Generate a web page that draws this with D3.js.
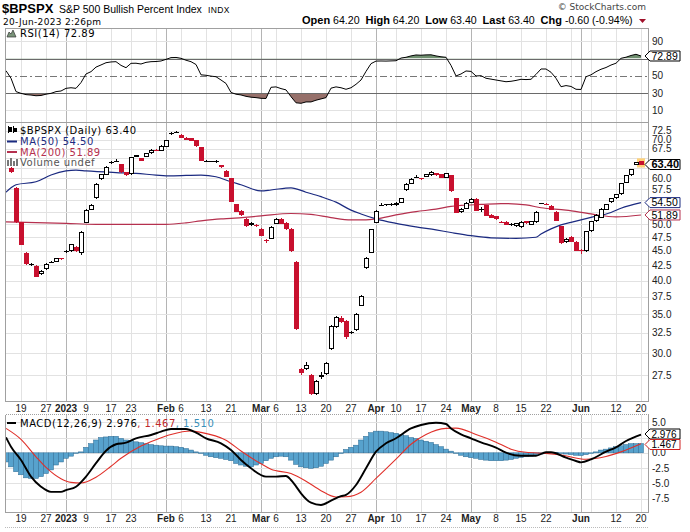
<!DOCTYPE html>
<html><head><meta charset="utf-8">
<script src="https://cdnjs.cloudflare.com/ajax/libs/d3/7.8.5/d3.min.js"></script>
<style>
html,body{margin:0;padding:0;background:#fff;}
svg{display:block;}
text{white-space:pre;}
</style></head>
<body><svg id="c" width="690" height="532"></svg>
<script>
// ---------------- DATA ----------------
const leadSession = "2022-12-14";
// [date, open, high, low, close]
const candles = [
["2022-12-15",62.5,62.7,61.3,61.5],["2022-12-16",57.8,57.9,50.3,50.4],["2022-12-19",50.4,50.5,46.0,46.1],
["2022-12-20",44.7,44.8,42.6,42.7],["2022-12-21",42.6,42.9,42.3,42.75],["2022-12-22",42.4,42.5,40.5,40.6],
["2022-12-23",41.0,41.7,40.9,41.6],["2022-12-27",41.8,42.9,41.7,42.8],["2022-12-28",43.0,43.2,42.9,43.05],
["2022-12-29",43.1,43.8,43.0,43.7],["2022-12-30",43.7,43.8,43.4,43.5],
["2023-01-03",44.9,45.1,44.6,45.0],["2023-01-04",44.9,46.3,44.8,46.2],["2023-01-05",45.7,45.8,44.8,44.9],
["2023-01-06",44.7,48.6,44.2,48.5],["2023-01-09",50.3,53.1,50.2,53.0],["2023-01-10",53.0,54.1,52.9,54.0],
["2023-01-11",55.4,58.8,55.3,58.7],["2023-01-12",59.8,61.1,59.7,61.0],["2023-01-13",60.8,62.9,60.7,62.8],
["2023-01-17",64.0,64.3,63.6,64.1],["2023-01-18",64.2,64.9,64.0,64.3],["2023-01-19",63.5,63.6,61.4,61.5],
["2023-01-20",61.5,61.6,60.6,60.7],["2023-01-23",61.0,65.4,60.9,65.3],["2023-01-24",65.8,65.9,65.3,65.4],
["2023-01-25",65.0,65.1,64.2,64.3],["2023-01-26",65.3,66.4,65.2,66.3],["2023-01-27",66.3,67.3,66.2,67.2],
["2023-01-30",67.2,67.3,66.8,66.9],["2023-01-31",67.0,68.4,66.9,68.3],
["2023-02-01",68.0,70.0,67.9,69.9],["2023-02-02",71.7,72.1,71.4,71.8],["2023-02-03",72.2,72.5,71.9,72.25],
["2023-02-06",71.4,71.5,70.4,70.5],["2023-02-07",70.5,70.6,69.8,69.9],["2023-02-08",70.3,70.4,69.5,69.6],
["2023-02-09",69.9,70.0,68.0,68.1],["2023-02-10",67.9,68.0,64.2,64.3],["2023-02-13",64.3,64.5,64.1,64.35],
["2023-02-14",64.2,64.4,64.0,64.35],["2023-02-15",64.3,64.6,63.8,64.4],["2023-02-16",63.2,63.3,62.6,62.7],
["2023-02-17",61.9,62.0,60.3,60.4],["2023-02-21",60.1,60.2,54.6,54.7],["2023-02-22",54.1,54.2,52.5,52.6],
["2023-02-23",52.8,52.9,51.7,51.8],["2023-02-24",51.1,51.2,49.5,49.6],["2023-02-27",49.8,50.5,49.6,50.3],
["2023-02-28",49.8,50.0,49.5,49.85],
["2023-03-01",49.1,49.2,47.7,47.8],["2023-03-02",46.9,47.2,46.5,47.0],["2023-03-03",47.2,49.6,47.1,49.5],
["2023-03-06",50.1,51.2,50.0,51.1],["2023-03-07",51.1,51.2,50.0,50.1],["2023-03-08",50.3,50.4,48.9,49.0],
["2023-03-09",49.1,49.2,44.8,44.9],["2023-03-10",43.1,43.2,32.9,33.0],["2023-03-13",28.2,28.3,27.5,27.7],
["2023-03-14",28.2,28.9,28.1,28.6],["2023-03-15",27.5,27.6,25.4,25.5],["2023-03-16",25.5,27.0,25.4,26.9],
["2023-03-17",27.25,27.8,27.1,27.5],["2023-03-20",27.6,28.9,27.5,28.8],["2023-03-21",30.5,33.5,30.4,33.4],
["2023-03-22",33.3,34.8,33.2,34.6],["2023-03-23",34.5,34.8,33.8,34.0],["2023-03-24",34.1,34.2,31.7,32.0],
["2023-03-27",32.6,32.7,32.3,32.5],["2023-03-28",32.9,35.1,32.8,35.0],["2023-03-29",36.2,37.7,36.1,37.6],
["2023-03-30",42.0,43.9,41.9,43.8],["2023-03-31",44.7,49.1,44.6,49.0],
["2023-04-03",50.3,52.9,50.2,52.8],["2023-04-04",54.0,54.4,53.9,54.05],["2023-04-05",54.0,54.3,53.7,54.1],
["2023-04-06",53.9,54.4,53.7,54.3],["2023-04-10",53.9,54.6,53.8,54.5],["2023-04-11",54.5,55.5,54.4,55.4],
["2023-04-12",57.2,58.8,57.1,58.7],["2023-04-13",58.7,60.0,58.6,59.9],["2023-04-14",60.4,60.8,60.3,60.45],
["2023-04-17",60.1,60.2,59.7,59.8],["2023-04-18",60.4,61.1,60.3,61.0],["2023-04-19",60.8,61.7,60.6,61.5],
["2023-04-20",61.2,61.3,60.6,60.7],["2023-04-21",61.0,61.1,60.0,60.1],["2023-04-24",60.2,61.4,60.1,61.3],
["2023-04-25",60.8,60.9,56.9,57.0],["2023-04-26",55.4,55.5,52.3,52.4],["2023-04-27",52.5,53.3,52.2,53.2],
["2023-04-28",53.2,54.6,53.1,54.5],
["2023-05-01",54.5,55.4,54.4,55.3],["2023-05-02",55.3,55.4,52.7,52.8],["2023-05-03",53.0,53.5,52.6,53.05],
["2023-05-04",53.9,54.0,51.6,51.7],["2023-05-05",51.9,52.0,51.2,51.3],["2023-05-08",51.6,51.7,50.9,51.0],
["2023-05-09",50.4,50.6,50.2,50.3],["2023-05-10",50.5,50.6,49.8,49.9],["2023-05-11",50.0,50.2,49.7,49.95],
["2023-05-12",49.7,50.3,49.5,50.2],["2023-05-15",49.4,50.6,49.3,50.5],["2023-05-16",50.6,50.7,50.1,50.2],
["2023-05-17",49.9,50.7,49.8,50.6],["2023-05-18",50.4,52.7,50.3,52.6],["2023-05-19",54.4,54.5,54.2,54.3],
["2023-05-22",54.1,54.4,53.9,54.0],["2023-05-23",53.8,53.9,52.9,53.0],["2023-05-24",52.6,52.7,50.6,50.7],
["2023-05-25",49.6,49.7,46.3,46.4],["2023-05-26",46.6,47.3,46.5,47.2],["2023-05-30",47.6,47.7,46.6,46.7],
["2023-05-31",46.7,46.8,44.9,45.0],
["2023-06-01",45.2,45.3,44.5,44.95],["2023-06-02",44.9,48.7,44.8,48.6],["2023-06-05",48.6,50.7,48.5,50.6],
["2023-06-06",50.6,52.0,50.5,51.9],["2023-06-07",51.3,53.3,51.2,53.2],["2023-06-08",53.0,54.2,52.9,54.1],
["2023-06-09",54.6,55.5,54.5,55.4],["2023-06-12",55.4,56.4,55.3,56.3],["2023-06-13",56.3,59.0,56.2,58.9],
["2023-06-14",58.9,60.8,58.8,60.7],["2023-06-15",60.7,62.3,60.6,62.2],["2023-06-16",63.3,64.1,63.2,64.0],
["2023-06-20",64.2,64.2,63.4,63.4]
];

// moving averages (read at sample dates)
const ma50 = [["2022-12-14",56.8],["2022-12-15",57.8],["2022-12-16",58.5],["2022-12-22",59.2],["2022-12-28",60.8],
["2023-01-03",61.8],["2023-01-05",62.0],["2023-01-09",61.8],["2023-01-18",61.4],["2023-01-24",61.2],["2023-01-30",60.8],
["2023-02-02",60.6],["2023-02-10",60.8],["2023-02-15",60.4],["2023-02-21",59.2],["2023-02-23",58.5],["2023-03-01",57.1],
["2023-03-03",57.3],["2023-03-09",57.8],["2023-03-14",56.8],["2023-03-17",55.8],["2023-03-22",54.6],["2023-03-27",52.9],
["2023-03-29",52.1],["2023-04-03",51.1],["2023-04-10",50.2],["2023-04-14",49.5],["2023-04-20",48.9],["2023-04-25",48.4],
["2023-05-01",47.8],["2023-05-05",47.4],["2023-05-12",47.3],["2023-05-18",47.5],["2023-05-19",48.1],["2023-05-23",49.1],
["2023-05-25",49.9],["2023-05-30",50.4],["2023-06-05",51.4],["2023-06-09",52.4],["2023-06-13",53.3],["2023-06-20",54.5]];
const ma200 = [["2022-12-14",50.5],["2023-01-03",50.2],["2023-01-11",50.0],["2023-01-23",50.0],["2023-02-01",50.0],
["2023-02-07",50.3],["2023-02-10",50.7],["2023-02-16",51.1],["2023-02-21",51.2],["2023-03-01",51.7],["2023-03-09",52.2],
["2023-03-15",52.0],["2023-03-21",51.35],["2023-03-27",50.9],["2023-03-30",50.9],["2023-04-03",51.1],["2023-04-10",51.9],
["2023-04-14",52.6],["2023-04-20",53.1],["2023-04-25",53.7],["2023-04-27",53.9],["2023-05-03",54.1],["2023-05-09",54.3],
["2023-05-16",54.0],["2023-05-19",53.4],["2023-05-26",52.9],["2023-06-05",52.1],["2023-06-12",51.5],["2023-06-20",51.89]];

// RSI(14), one value per session starting at leadSession
const rsiValues = [55.8,47.0,31.5,29.5,28.0,27.5,26.7,27.0,28.5,29.5,31.5,32.2,
35.3,36.0,35.3,42.0,52.0,54.7,60.0,62.5,65.1,66.0,66.3,62.0,59.3,64.4,64.5,63.6,65.5,66.3,66.5,67.1,
69.0,71.0,71.2,70.2,68.0,66.3,63.0,51.0,50.5,49.5,48.8,45.0,41.0,30.5,28.5,27.6,26.0,25.0,24.5,
23.7,23.5,36.5,37.0,35.0,33.5,25.6,18.5,17.9,19.5,19.5,21.5,23.0,24.5,35.5,37.0,36.0,34.2,36.0,40.0,45.0,55.0,64.0,
67.0,67.1,67.0,67.2,67.4,70.5,71.4,73.0,74.1,73.8,74.2,74.3,73.0,72.0,71.4,62.0,49.7,52.0,55.5,
55.0,49.7,50.0,47.0,46.0,45.0,44.0,43.0,43.5,44.5,45.8,45.5,45.8,51.5,57.8,57.8,54.0,47.0,37.2,38.5,37.5,34.2,
34.0,48.8,51.0,54.7,57.5,59.5,62.4,64.5,70.2,71.5,73.5,74.9,72.89];

// MACD(12,26,9)
const macdLine = [["2022-12-14",2.54],["2022-12-15",1.0],["2022-12-19",-1.18],["2022-12-21",-3.9],["2022-12-23",-5.56],
["2022-12-28",-6.4],["2022-12-30",-6.4],["2023-01-03",-6.1],["2023-01-05",-5.56],["2023-01-09",-3.9],["2023-01-11",-1.7],
["2023-01-13",0.34],["2023-01-18",1.4],["2023-01-20",1.66],["2023-01-24",2.38],["2023-01-27",2.92],["2023-01-31",3.46],
["2023-02-02",3.9],["2023-02-07",3.9],["2023-02-09",3.3],["2023-02-13",2.38],["2023-02-16",1.56],["2023-02-21",0.46],
["2023-02-23",-1.18],["2023-02-27",-2.54],["2023-03-02",-3.9],["2023-03-06",-3.9],["2023-03-08",-3.8],["2023-03-09",-4.46],
["2023-03-10",-5.5],["2023-03-13",-6.64],["2023-03-15",-8.18],["2023-03-17",-8.56],["2023-03-21",-7.85],["2023-03-23",-7.1],
["2023-03-24",-6.9],["2023-03-28",-5.28],["2023-03-30",-2.54],["2023-04-03",0.18],["2023-04-05",1.56],["2023-04-10",2.38],
["2023-04-13",4.0],["2023-04-17",4.56],["2023-04-20",4.93],["2023-04-24",4.72],["2023-04-25",4.0],["2023-04-27",3.03],
["2023-05-01",2.38],["2023-05-03",1.72],["2023-05-08",0.84],["2023-05-10",0.02],["2023-05-15",-0.48],["2023-05-18",-0.48],
["2023-05-22",0.08],["2023-05-23",0.08],["2023-05-26",-0.8],["2023-05-31",-1.34],["2023-06-01",-1.56],["2023-06-05",-1.07],
["2023-06-08",0.18],["2023-06-12",0.9],["2023-06-14",1.93],["2023-06-20",2.976]];
const signalLine = [["2022-12-14",4.0],["2022-12-19",2.2],["2022-12-22",-0.65],["2022-12-27",-2.4],["2022-12-30",-4.25],
["2023-01-04",-4.85],["2023-01-06",-4.95],["2023-01-11",-4.0],["2023-01-17",-2.2],["2023-01-19",-0.9],["2023-01-25",1.1],
["2023-01-30",2.15],["2023-02-02",3.0],["2023-02-08",3.57],["2023-02-10",3.35],["2023-02-17",2.05],["2023-02-23",0.3],
["2023-03-01",-1.8],["2023-03-03",-2.7],["2023-03-09",-3.4],["2023-03-14",-4.65],["2023-03-17",-6.2],["2023-03-22",-7.25],
["2023-03-24",-7.2],["2023-03-29",-6.45],["2023-04-03",-4.2],["2023-04-10",-1.05],["2023-04-13",1.4],["2023-04-18",3.0],
["2023-04-24",4.0],["2023-04-26",4.05],["2023-05-02",3.0],["2023-05-08",1.75],["2023-05-11",0.6],["2023-05-16",0.08],
["2023-05-22",-0.1],["2023-05-25",-0.35],["2023-06-02",-1.05],["2023-06-08",-0.6],["2023-06-13",0.15],["2023-06-20",1.467]];
const histValues = [-1.5,-2.3,-3.1,-3.6,-4.1,-4.2,-4.2,-3.9,-3.4,-2.8,-2.0,-1.5,
-0.9,-0.55,-0.1,0.15,0.9,1.5,2.1,2.5,2.6,2.7,2.7,2.35,2.1,2.0,1.8,1.65,1.5,1.35,1.25,1.15,
1.1,1.1,1.0,0.9,0.7,0.45,0.15,-0.1,-0.4,-0.65,-0.8,-0.9,-1.1,-1.3,-1.75,-2.0,-2.2,-2.3,-2.0,
-1.75,-1.3,-0.9,-0.65,-0.55,-0.65,-1.2,-1.9,-2.3,-2.45,-2.55,-2.45,-2.2,-1.75,-1.2,-0.65,-0.1,0.55,0.9,1.25,2.1,2.7,
3.3,3.55,3.55,3.45,3.3,3.2,3.0,2.8,2.5,2.35,2.1,1.9,1.7,1.35,1.0,0.6,0.27,-0.1,-0.4,-0.65,-0.8,
-0.9,-1.1,-1.2,-1.3,-1.3,-1.3,-1.2,-1.1,-0.9,-0.75,-0.65,-0.55,-0.4,-0.2,-0.1,0,0.05,-0.1,-0.2,-0.3,-0.4,-0.45,
-0.3,-0.1,0.15,0.45,0.6,0.8,1.0,1.15,1.35,1.5,1.5,1.51];

// axis ticks
const priceTicks = [27.5,30,32.5,35,37.5,40,42.5,45,47.5,50,52.5,55,57.5,60,62.5,65,67.5,70,72.5];
const rsiTicks = [10,30,50,70,90];
const macdTicks = [-7.5,-5,-2.5,0,2.5,5];
const gridDates = ["2022-12-19","2022-12-27","2023-01-03","2023-01-09","2023-01-17","2023-01-23","2023-01-30","2023-02-01",
"2023-02-06","2023-02-13","2023-02-21","2023-02-27","2023-03-01","2023-03-06","2023-03-13","2023-03-20","2023-03-27",
"2023-04-03","2023-04-10","2023-04-17","2023-04-24","2023-05-01","2023-05-08","2023-05-15","2023-05-22","2023-05-30",
"2023-06-01","2023-06-05","2023-06-12","2023-06-20"];
const monthStarts = ["2023-01-03","2023-02-01","2023-03-01","2023-04-03","2023-05-01","2023-06-01"];
const xLabels = [["2022-12-19","19"],["2022-12-27","27"],["2023-01-03","2023"],["2023-01-09","9"],["2023-01-17","17"],
["2023-01-23","23"],["2023-02-01","Feb"],["2023-02-06","6"],["2023-02-13","13"],["2023-02-21","21"],["2023-03-01","Mar"],
["2023-03-06","6"],["2023-03-13","13"],["2023-03-20","20"],["2023-03-27","27"],["2023-04-03","Apr"],["2023-04-10","10"],
["2023-04-17","17"],["2023-04-24","24"],["2023-05-01","May"],["2023-05-08","8"],["2023-05-15","15"],["2023-05-22","22"],
["2023-06-01","Jun"],["2023-06-12","12"],["2023-06-20","20"]];

// ---------------- DRAW ----------------
const PT = "'Liberation Sans', Arial, Helvetica, sans-serif";
const VT = "'DejaVu Sans', Verdana, sans-serif";
const RED = "#c8102e", NAVY = "#1b2a80", CRIM = "#b5304e";
const svg = d3.select("#c");
svg.append("rect").attr("width",690).attr("height",532).attr("fill","#fff");

const sessions = [leadSession, ...candles.map(d => d[0])];
const idx = new Map(sessions.map((d,i) => [d, i - 12]));
const L = 5, R = 648;
const P = {rsi:[28,122], main:[122,401], macd:[414,512]};
const x = d3.scaleLinear().domain([-12.2, 116.4]).range([L, R]);
const xd = d => x(idx.get(d));
const yP = d3.scaleLog().domain([24.8, 75.05]).range([P.main[1], P.main[0]]);
const yR = d3.scaleLinear().domain([0,100]).range([118.7, 32.7]);
const yM = d3.scaleLinear().domain([-9.7, 6.36]).range([P.macd[1], P.macd[0]]);

const last = candles[candles.length-1];
// spread stacked tags so that they do not cover each other
function spread(ys, gap){
  const o = ys.map((y,i)=>({y,i})).sort((a,b)=>a.y-b.y);
  for (let k=1;k<o.length;k++){
    if (o[k].y - o[k-1].y < gap){
      const mid = (o[k].y + o[k-1].y)/2;
      o[k-1].y = mid - gap/2; o[k].y = mid + gap/2;
    }
  }
  const r = []; o.forEach(e => r[e.i] = e.y); return r;
}
const tagsRSI = [yR(rsiValues[rsiValues.length-1])];
const tagsMain = [yP(last[4]), yP(ma50[ma50.length-1][1]), yP(ma200[ma200.length-1][1])];
const tagsMACD = spread([yM(macdLine[macdLine.length-1][1]), yM(signalLine[signalLine.length-1][1])], 10.5);

const defs = svg.append("defs");
Object.entries(P).forEach(([k,[t,b]]) => {
  defs.append("clipPath").attr("id","clip-"+k).append("rect").attr("x",L).attr("y",t).attr("width",R-L).attr("height",b-t);
});

function vgrid(k){
  const [t,b] = P[k];
  const g = svg.append("g").attr("shape-rendering","crispEdges");
  g.selectAll("line").data(gridDates).join("line")
    .attr("x1", d => Math.round(xd(d))+0.5).attr("x2", d => Math.round(xd(d))+0.5)
    .attr("y1", t).attr("y2", b)
    .attr("stroke", d => monthStarts.includes(d) ? "#b4b4b4" : "#e2e2e2");
}
function hgrid(ticks, ys, col){
  const g = svg.append("g").attr("shape-rendering","crispEdges");
  g.selectAll("line").data(ticks).join("line")
    .attr("x1",L).attr("x2",R)
    .attr("y1", d => Math.round(ys(d))+0.5).attr("y2", d => Math.round(ys(d))+0.5)
    .attr("stroke", col || "#e2e2e2");
}
function ylabels(ticks, ys, fmt, tagYs){
  const shown = ticks.filter(t => tagYs.every(ty => Math.abs(ys(t) - ty) >= 7));
  svg.append("g").selectAll("text").data(shown).join("text")
    .attr("x", R+4).attr("y", d => ys(d)).attr("dy","0.36em")
    .attr("font-family",PT).attr("font-size",10).attr("fill","#222")
    .text(fmt);
}

// ---- RSI panel
vgrid("rsi");
hgrid([10,90], yR);
const rsiPts = rsiValues.map((v,i) => [sessions[i], v]);
const gR = svg.append("g").attr("clip-path","url(#clip-rsi)");
defs.append("clipPath").attr("id","above70").append("rect").attr("x",L).attr("y",P.rsi[0]).attr("width",R-L).attr("height",yR(70)-P.rsi[0]);
defs.append("clipPath").attr("id","below30").append("rect").attr("x",L).attr("y",yR(30)).attr("width",R-L).attr("height",P.rsi[1]-yR(30));
gR.append("g").attr("clip-path","url(#above70)").append("path")
  .attr("d", d3.area().x(d => xd(d[0])).y0(yR(70)).y1(d => yR(d[1]))(rsiPts)).attr("fill","#6f8f6f");
gR.append("g").attr("clip-path","url(#below30)").append("path")
  .attr("d", d3.area().x(d => xd(d[0])).y0(yR(30)).y1(d => yR(d[1]))(rsiPts)).attr("fill","#96706a");
const gl = gR.append("g").attr("shape-rendering","crispEdges");
[70,30].forEach(v => gl.append("line").attr("x1",L).attr("x2",R).attr("y1",Math.round(yR(v))+0.5).attr("y2",Math.round(yR(v))+0.5).attr("stroke","#6a6a6a"));
gl.append("line").attr("x1",L).attr("x2",R).attr("y1",Math.round(yR(50))+0.5).attr("y2",Math.round(yR(50))+0.5)
  .attr("stroke","#777").attr("stroke-dasharray","7,3,2,3");
gR.append("path").attr("d", d3.line().x(d => xd(d[0])).y(d => yR(d[1]))(rsiPts))
  .attr("fill","none").attr("stroke","#000").attr("stroke-width",1);
svg.append("rect").attr("x",L+0.5).attr("y",P.rsi[0]+0.5).attr("width",R-L).attr("height",P.rsi[1]-P.rsi[0]).attr("fill","none").attr("stroke","#a0a0a0");
ylabels(rsiTicks, yR, d => d, tagsRSI);

// ---- main panel
vgrid("main");
hgrid(priceTicks, yP);
const gM = svg.append("g").attr("clip-path","url(#clip-main)");
const smooth = d3.line().x(d => xd(d[0])).y(d => yP(d[1])).curve(d3.curveMonotoneX);
gM.append("path").attr("d", smooth(ma200)).attr("fill","none").attr("stroke",CRIM).attr("stroke-width",1.2);
gM.append("path").attr("d", smooth(ma50)).attr("fill","none").attr("stroke",NAVY).attr("stroke-width",1.2);
gM.append("rect").attr("x", xd(last[0])-4).attr("y", yP(last[2])-3).attr("width",8).attr("height", yP(last[3])-yP(last[2])+6)
  .attr("fill","#ffd27a");
candles.forEach((d,k) => {
  const prev = k > 0 ? candles[k-1][4] : d[1];
  d.col = d[4] < prev ? RED : "#000";
  d.filled = d[4] < d[1];
});
const cg = gM.append("g").attr("shape-rendering","crispEdges");
const cand = cg.selectAll("g").data(candles).join("g");
cand.append("line")
  .attr("x1", d => Math.round(xd(d[0]))+0.5).attr("x2", d => Math.round(xd(d[0]))+0.5)
  .attr("y1", d => yP(d[2])).attr("y2", d => yP(d[3]))
  .attr("stroke", d => d.col);
cand.append("rect")
  .attr("x", d => Math.round(xd(d[0])) - 2 + (d.filled ? 0 : 0.5))
  .attr("width", d => d.filled ? 5 : 4)
  .attr("y", d => Math.min(yP(d[1]), yP(d[4])) + (d.filled ? 0 : 0.5))
  .attr("height", d => Math.max(d.filled ? 1 : 0.01, Math.abs(yP(d[1]) - yP(d[4])) - (d.filled ? 0 : 1)))
  .attr("fill", d => d.filled ? d.col : "#fff")
  .attr("stroke", d => d.filled ? "none" : d.col);
svg.append("rect").attr("x",L+0.5).attr("y",P.main[0]+0.5).attr("width",R-L).attr("height",P.main[1]-P.main[0]).attr("fill","none").attr("stroke","#a0a0a0");
ylabels(priceTicks, yP, d => d.toFixed(1), tagsMain);

// ---- MACD panel
vgrid("macd");
hgrid(macdTicks, yM);
const gD = svg.append("g").attr("clip-path","url(#clip-macd)");
gD.append("g").selectAll("rect").data(histValues.map((v,i) => [sessions[i], v])).join("rect")
  .attr("x", d => xd(d[0]) - 2.5).attr("width", 5)
  .attr("y", d => Math.min(yM(0), yM(d[1]))).attr("height", d => Math.abs(yM(d[1]) - yM(0)))
  .attr("fill","#57a2cd").attr("stroke","#2c6a92").attr("stroke-width",0.5);
const mline = d3.line().x(d => xd(d[0])).y(d => yM(d[1])).curve(d3.curveMonotoneX);
gD.append("path").attr("d", mline(signalLine)).attr("fill","none").attr("stroke","#e0302a").attr("stroke-width",1.1);
gD.append("path").attr("d", mline(macdLine)).attr("fill","none").attr("stroke","#000").attr("stroke-width",1.9);
svg.append("rect").attr("x",L+0.5).attr("y",P.macd[0]+0.5).attr("width",R-L).attr("height",P.macd[1]-P.macd[0]).attr("fill","none").attr("stroke","#a0a0a0");
svg.append("line").attr("x1",L).attr("x2",R).attr("y1",P.macd[0]+0.5).attr("y2",P.macd[0]+0.5).attr("stroke","#fff").attr("stroke-dasharray","1,1");
ylabels(macdTicks, yM, d => d.toFixed(1), tagsMACD);

// ---- x-axis labels
[412, 522].forEach(yy => {
  svg.append("g").selectAll("text").data(xLabels).join("text")
    .attr("x", d => xd(d[0])).attr("y", yy).attr("text-anchor","middle")
    .attr("font-family",PT).attr("font-size",10)
    .attr("font-weight", d => monthStarts.includes(d[0]) ? "bold" : "normal")
    .attr("fill","#222").text(d => d[1]);
});
svg.append("line").attr("x1",L).attr("x2",R).attr("y1",527.5).attr("y2",527.5).attr("stroke","#bbb").attr("stroke-dasharray","1,1");

// ---- value tags
function tag(y, txt, col, bold, fs){
  const g = svg.append("g");
  g.append("path").attr("d", `M645,${y} L650,${y-5} L680,${y-5} L680,${y+5} L650,${y+5} Z`)
    .attr("fill","#fff").attr("stroke",col).attr("stroke-width",1);
  g.append("text").attr("x",651.5).attr("y",y).attr("dy","0.36em")
    .attr("font-family",PT).attr("font-size", fs || (bold ? 11 : 10.5)).attr("font-weight", bold ? "bold" : "normal")
    .attr("fill","#000").text(txt);
}
tag(tagsRSI[0], "72.89", "#000", false);
tag(tagsMain[0], "63.40", "#000", true);
tag(tagsMain[1], "54.50", NAVY, false);
tag(tagsMain[2], "51.89", CRIM, false);
tag(tagsMACD[0], "2.976", "#000", false, 10);
tag(tagsMACD[1], "1.467", "#d02020", false, 10);

// ---- legends
function legend(xx, yy, parts){
  const t = svg.append("text").attr("x",xx).attr("y",yy).attr("font-family",VT).attr("font-size",10).attr("letter-spacing",0.5);
  parts.forEach(([s,c]) => t.append("tspan").attr("fill",c).text(s));
}
svg.append("path").attr("d","M7,37 L9,32 L11,34 L13,30 L16,37 Z").attr("fill","#7a947a").attr("stroke","#333").attr("stroke-width",0.7);
legend(20, 36.5, [["RSI(14) 72.89","#000"]]);
const ic = svg.append("g").attr("stroke","#000").attr("stroke-width",1).attr("shape-rendering","crispEdges");
ic.append("line").attr("x1",8.5).attr("x2",8.5).attr("y1",126).attr("y2",133);
ic.append("rect").attr("x",9.5).attr("y",127.5).attr("width",2).attr("height",4).attr("fill","#000");
ic.append("line").attr("x1",13.5).attr("x2",13.5).attr("y1",126).attr("y2",133);
ic.append("rect").attr("x",14.5).attr("y",128.5).attr("width",2).attr("height",3).attr("fill","#000");
legend(20, 134, [["$BPSPX (Daily) 63.40","#000"]]);
svg.append("line").attr("x1",7).attr("x2",17).attr("y1",141.5).attr("y2",141.5).attr("stroke",NAVY).attr("stroke-width",2);
legend(20, 145, [["MA(50) 54.50",NAVY]]);
svg.append("line").attr("x1",7).attr("x2",17).attr("y1",152).attr("y2",152).attr("stroke",CRIM).attr("stroke-width",2);
legend(20, 155.5, [["MA(200) 51.89",CRIM]]);
const vi = svg.append("g").attr("fill","#777");
[[7,160,6],[10,158,8],[13,161,5],[16,159,7]].forEach(([a,b,h]) => vi.append("rect").attr("x",a).attr("y",b).attr("width",2).attr("height",h));
legend(20, 166, [["Volume undef","#555"]]);
svg.append("line").attr("x1",7).attr("x2",16).attr("y1",423).attr("y2",423).attr("stroke","#000").attr("stroke-width",2);
legend(20, 427, [["MACD(12,26,9) 2.976","#000"],[", 1.467","#c0282a"],[", 1.510","#3a8fb8"]]);

// ---- header
svg.append("text").attr("x",2).attr("y",13).attr("font-family",PT).attr("font-weight","bold").attr("font-size",13).text("$BPSPX");
svg.append("text").attr("x",59).attr("y",12.5).attr("font-family",PT).attr("font-size",10.5).text("S&P 500 Bullish Percent Index");
svg.append("text").attr("x",208).attr("y",12.5).attr("font-family",PT).attr("font-size",8.5).attr("letter-spacing",0.4).text("INDX");
svg.append("text").attr("x",3).attr("y",24.5).attr("font-family",VT).attr("font-size",9).attr("letter-spacing",0.3).text("20-Jun-2023 2:26pm");
svg.append("text").attr("x",646).attr("y",10).attr("text-anchor","end").attr("font-family",VT).attr("font-size",9).attr("fill","#444").text("© StockCharts.com");
const oh = svg.append("text").attr("x",302).attr("y",23.5).attr("font-family",PT);
[["Open",1],[" 64.20  ",0],["High",1],[" 64.20  ",0],["Low",1],[" 63.40  ",0],["Last",1],[" 63.40  ",0],["Chg",1],[" -0.60 (-0.94%)",0]]
  .forEach(([s,b]) => oh.append("tspan").attr("font-weight", b ? "bold" : "normal").attr("font-size", b ? 11 : 10.6).text(s));
svg.append("path").attr("d","M639,19 L646,19 L642.5,23 Z").attr("fill","#a0102a");
</script></body></html>
